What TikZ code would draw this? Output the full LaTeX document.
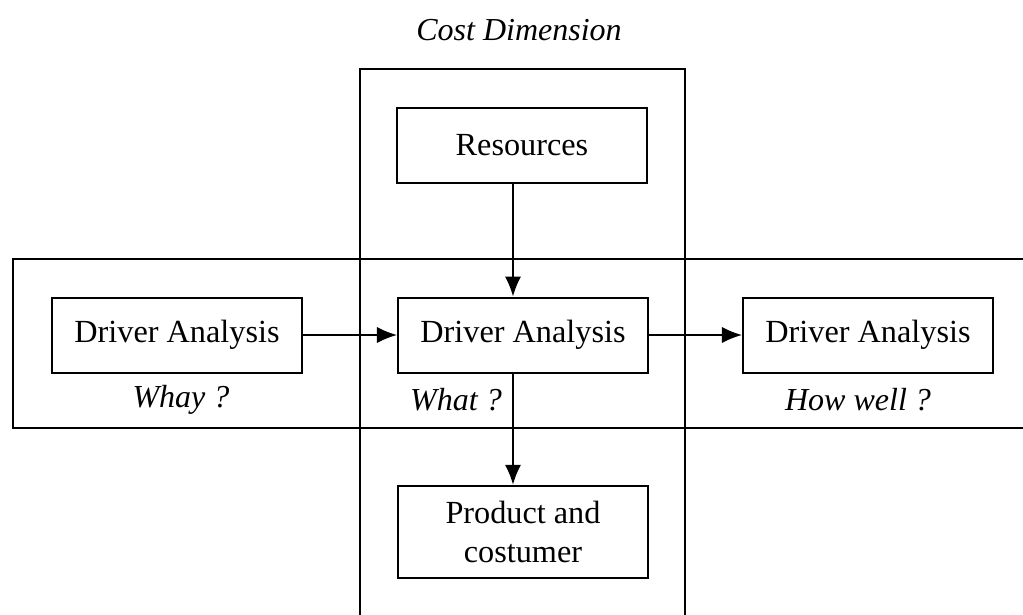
\documentclass[tikz,border=0pt]{standalone}
\usepackage{fontspec}
\setmainfont{Liberation Serif}
\usepackage{tikz}
\usetikzlibrary{arrows.meta}

\tikzset{
  dbox/.style={draw, line width=0.8pt, minimum width=100pt, minimum height=30pt, inner sep=0pt, align=center},
  qlabel/.style={font=\fontsize{12.8}{15.5}\selectfont\itshape},
  flow/.style={line width=0.7pt, -{Latex[length=8pt,width=6.5pt]}}
}

\begin{document}
\begin{tikzpicture}[x=0.4pt,y=-0.4pt,every node/.style={font=\fontsize{12.9}{15.5}\selectfont}]
\useasboundingbox (0,0) rectangle (1023,615);

% Frames
\draw[line width=0.8pt] (360,615) -- (360,69) -- (685,69) -- (685,615);
\draw[line width=0.8pt] (1023,259) -- (13,259) -- (13,428) -- (1023,428);

% Title
\node[qlabel] (cost) at (519,30) {Cost Dimension};

% Boxes
\node[dbox] (res) at (522,145) {Resources};
\node[dbox] (dleft) at (177,335) {Driver Analysis};
\node[dbox] (dmid) at (523,335) {Driver Analysis};
\node[dbox] (dright) at (868,335) {Driver Analysis};
\node[dbox, minimum height=37pt] (prod) at (523,532) {Product and\\costumer};

% Questions
\node[qlabel] (why) at (181,400) {Whay ?};
\node[qlabel] (what) at (456,400) {What ?};
\node[qlabel] (how) at (858,400) {How well ?};

% Arrows
\draw[flow] (res.south -| 513,0) -- (dmid.north -| 513,0);
\draw[flow] (dleft.east) -- (dmid.west);
\draw[flow] (dmid.east) -- (dright.west);
\draw[flow] (dmid.south -| 513,0) -- (prod.north -| 513,0);

\end{tikzpicture}
\end{document}
